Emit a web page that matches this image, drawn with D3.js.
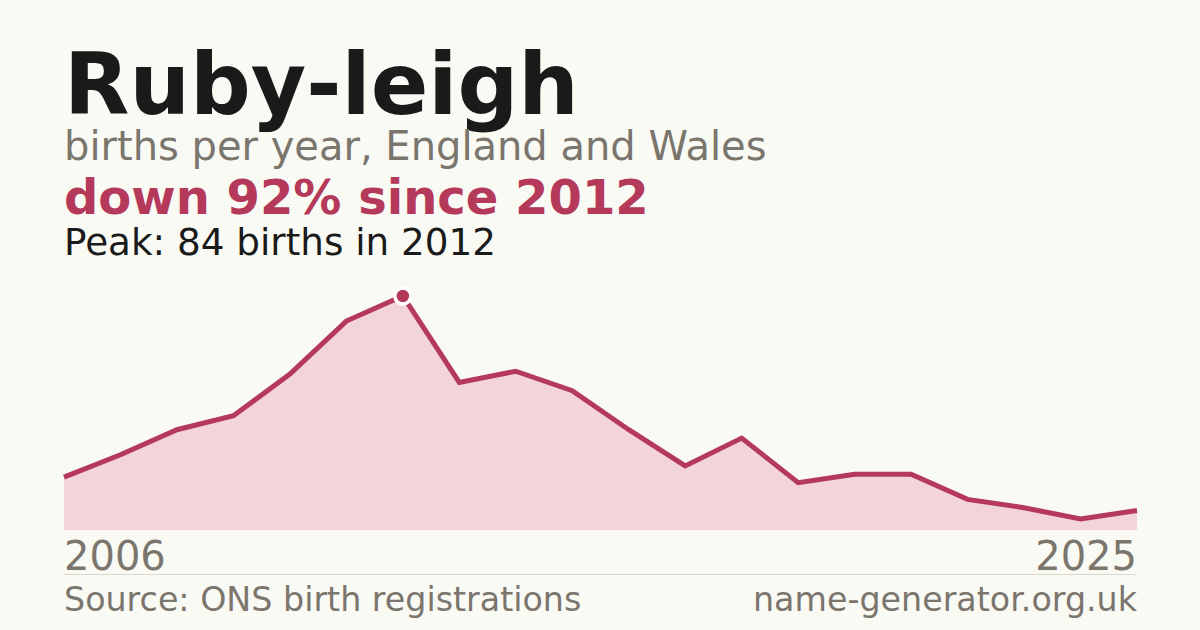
<!DOCTYPE html>
<html>
<head>
<meta charset="utf-8">
<script src="https://cdn.jsdelivr.net/npm/d3@7"></script>
<style>
  html, body { margin: 0; padding: 0; background: #fafaf5; }
  svg { display: block; font-family: "DejaVu Sans", sans-serif; }
</style>
</head>
<body>
<script>
// data
const years = [2006, 2007, 2008, 2009, 2010, 2011, 2012, 2013, 2014, 2015,
               2016, 2017, 2018, 2019, 2020, 2021, 2022, 2023, 2024, 2025];
const births = [19, 27, 36, 41, 56, 75, 84, 53, 57, 50,
                36, 23, 33, 17, 20, 20, 11, 8, 4, 7];
const xTickLabels = ["2006", "2025"];

const width = 1200, height = 630;
const plotLeft = 64, plotRight = 1137;
const plotBase = 530, plotTop = 296;

const red = "#b5395a";
const grey = "#7a756d";

const svg = d3.select("body").append("svg")
    .attr("width", width)
    .attr("height", height);

svg.append("rect")
    .attr("width", width).attr("height", height)
    .attr("fill", "#fafaf5");

const data = years.map((yr, i) => ({ year: yr, n: births[i] }));
const peak = data.reduce((a, b) => (b.n > a.n ? b : a));
const last = data[data.length - 1];
const drop = Math.round((1 - last.n / peak.n) * 100);

const x = d3.scaleLinear()
    .domain(d3.extent(years))
    .range([plotLeft, plotRight]);

const y = d3.scaleLinear()
    .domain([0, peak.n])
    .range([plotBase, plotTop]);

// header texts
svg.append("text")
    .attr("x", plotLeft).attr("y", 114)
    .attr("font-size", 85).attr("font-weight", "bold")
    .attr("fill", "#1a1a1a")
    .text("Ruby-leigh");

svg.append("text")
    .attr("x", plotLeft).attr("y", 160)
    .attr("font-size", 40)
    .attr("fill", grey)
    .text("births per year, England and Wales");

svg.append("text")
    .attr("x", plotLeft).attr("y", 214)
    .attr("font-size", 48).attr("font-weight", "bold")
    .attr("fill", red)
    .text(`down ${drop}% since ${peak.year}`);

svg.append("text")
    .attr("x", plotLeft).attr("y", 255)
    .attr("font-size", 37.3)
    .attr("fill", "#1a1a1a")
    .text(`Peak: ${peak.n} births in ${peak.year}`);

// area + line
const area = d3.area()
    .x(d => x(d.year))
    .y0(y(0))
    .y1(d => y(d.n));

const line = d3.line()
    .x(d => x(d.year))
    .y(d => y(d.n));

svg.append("path")
    .datum(data)
    .attr("d", area)
    .attr("fill", "#f2d4da");

svg.append("path")
    .datum(data)
    .attr("d", line)
    .attr("fill", "none")
    .attr("stroke", red)
    .attr("stroke-width", 5)
    .attr("stroke-linejoin", "miter");

// peak marker
svg.append("circle")
    .attr("cx", x(peak.year))
    .attr("cy", y(peak.n))
    .attr("r", 8)
    .attr("fill", red)
    .attr("stroke", "#ffffff")
    .attr("stroke-width", 3.5);

// year labels
svg.append("text")
    .attr("x", x(+xTickLabels[0])).attr("y", 570)
    .attr("font-size", 40)
    .attr("fill", grey)
    .text(xTickLabels[0]);

svg.append("text")
    .attr("x", x(+xTickLabels[1])).attr("y", 570)
    .attr("text-anchor", "end")
    .attr("font-size", 40)
    .attr("fill", grey)
    .text(xTickLabels[1]);

// rule + footer
svg.append("line")
    .attr("x1", plotLeft).attr("x2", plotRight)
    .attr("y1", 574.5).attr("y2", 574.5)
    .attr("stroke", "#dcd8d0")
    .attr("stroke-width", 1);

svg.append("text")
    .attr("x", plotLeft).attr("y", 611)
    .attr("font-size", 33.3)
    .attr("fill", grey)
    .text("Source: ONS birth registrations");

svg.append("text")
    .attr("x", plotRight).attr("y", 611)
    .attr("text-anchor", "end")
    .attr("font-size", 33.3)
    .attr("fill", grey)
    .text("name-generator.org.uk");
</script>
</body>
</html>
